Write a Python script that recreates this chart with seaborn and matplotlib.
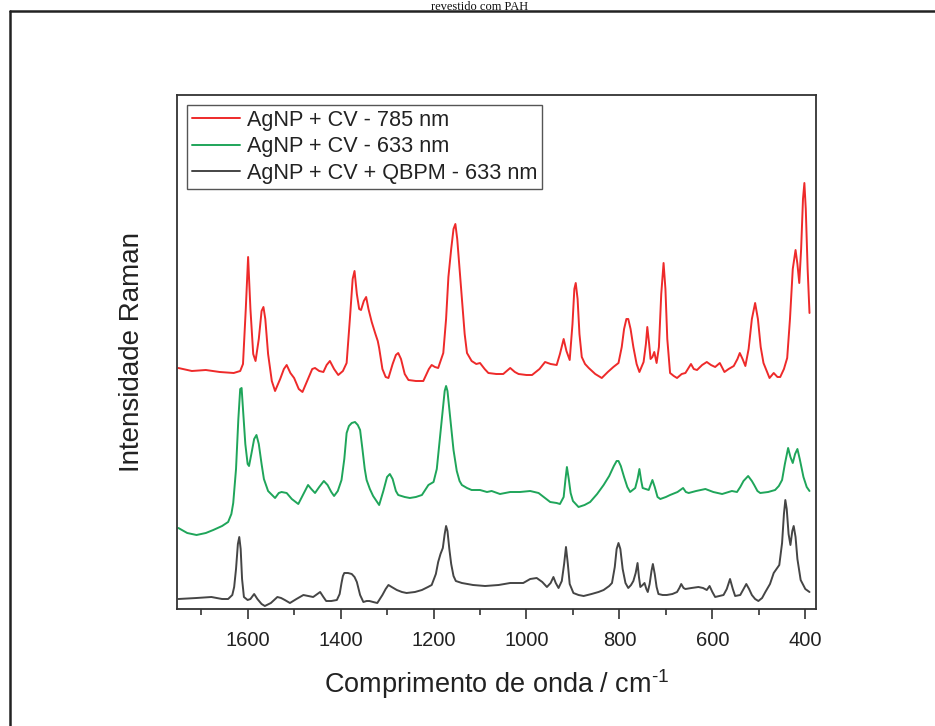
import numpy as np
import pandas as pd
import matplotlib
matplotlib.use("Agg")
import matplotlib.pyplot as plt
from matplotlib.lines import Line2D
from matplotlib.ticker import MultipleLocator
import seaborn as sns

# ---- data (wavenumber cm-1, Raman intensity, arbitrary units) ----
red_x = [1749, 1720, 1690, 1660, 1630, 1616, 1610, 1604, 1599, 1594, 1588, 1583, 1576, 1570, 1566,
         1562, 1556, 1548, 1541, 1530, 1522, 1516, 1508, 1500, 1490, 1482, 1470, 1461, 1455, 1446,
         1437, 1430, 1423, 1414, 1405, 1395, 1387, 1380, 1374, 1370, 1365, 1360, 1356, 1350, 1345,
         1340, 1333, 1325, 1320, 1317, 1310, 1303, 1297, 1288, 1281, 1276, 1270, 1262, 1254, 1238,
         1222, 1210, 1204, 1197, 1190, 1179, 1173, 1168, 1162, 1157, 1153, 1149, 1144, 1139, 1133,
         1128, 1118, 1108, 1100, 1090, 1082, 1065, 1050, 1035, 1025, 1017, 1000, 988, 972, 960,
         948, 935, 928, 920, 914, 907, 901, 897, 894, 890, 886, 881, 874, 866, 852,
         838, 825, 813, 802, 795, 790, 785, 781, 776, 770, 763, 757, 748, 743, 740,
         736, 733, 729, 725, 720, 715, 710, 705, 701, 697, 691, 683, 676, 666, 658,
         646, 640, 633, 622, 612, 603, 594, 584, 574, 565, 554, 546, 541, 535, 529,
         522, 515, 508, 502, 496, 490, 483, 477, 468, 460, 454, 446, 439, 433, 427,
         421, 417, 413, 409, 405, 402, 399, 395, 391]
red_y = [241, 238, 239, 237, 236, 238, 245, 300, 352, 300, 255, 248, 270, 298, 302,
         290, 255, 228, 218, 230, 240, 244, 236, 231, 220, 217, 230, 240, 241, 238,
         237, 244, 248, 240, 234, 238, 246, 290, 330, 338, 315, 300, 299, 308, 312,
         300, 287, 275, 268, 261, 240, 232, 231, 245, 254, 256, 250, 235, 229, 228,
         228, 240, 244, 242, 241, 256, 290, 332, 360, 380, 385, 370, 340, 309, 275,
         256, 248, 245, 246, 240, 236, 235, 235, 241, 237, 235, 234, 234, 240, 247,
         245, 244, 255, 270, 258, 249, 285, 320, 326, 310, 275, 252, 245, 241, 235,
         231, 237, 242, 246, 262, 280, 290, 290, 280, 262, 245, 237, 247, 265, 282,
         265, 250, 252, 257, 246, 262, 315, 346, 320, 270, 236, 233, 231, 235, 236,
         245, 240, 239, 244, 247, 244, 242, 246, 237, 240, 243, 250, 256, 250, 243,
         260, 290, 306, 290, 262, 246, 238, 231, 236, 232, 232, 240, 251, 290, 340,
         359, 345, 326, 360, 410, 426, 400, 340, 296]

green_x = [1749, 1730, 1710, 1690, 1674, 1655, 1642, 1635, 1631, 1625, 1620, 1616, 1613, 1610, 1605,
           1600, 1597, 1592, 1586, 1581, 1576, 1570, 1565, 1556, 1541, 1533, 1527, 1516, 1505, 1491,
           1480, 1470, 1463, 1455, 1446, 1436, 1428, 1420, 1414, 1406, 1398, 1392, 1387, 1382, 1376,
           1369, 1363, 1358, 1353, 1348, 1344, 1337, 1330, 1317, 1308, 1300, 1294, 1288, 1281, 1276,
           1262, 1251, 1238, 1225, 1211, 1200, 1193, 1186, 1180, 1176, 1173, 1170, 1165, 1160, 1157,
           1150, 1144, 1139, 1128, 1118, 1100, 1085, 1075, 1057, 1035, 1014, 992, 974, 960, 949,
           935, 928, 920, 916, 913, 909, 905, 900, 888, 875, 863, 848, 834, 822, 812,
           806, 802, 797, 790, 783, 777, 766, 761, 757, 753, 750, 737, 733, 729, 724,
           718, 712, 700, 691, 675, 663, 657, 651, 635, 615, 598, 579, 565, 558, 547,
           540, 533, 523, 515, 510, 503, 497, 480, 465, 457, 450, 444, 437, 432, 427,
           422, 417, 412, 404, 397, 391]
green_y = [81, 76, 74, 76, 79, 83, 87, 95, 106, 140, 190, 220, 221, 200, 165,
           145, 143, 155, 170, 174, 165, 145, 130, 118, 111, 116, 117, 116, 110, 105,
           115, 124, 120, 116, 122, 128, 124, 117, 113, 118, 129, 150, 176, 183, 186,
           187, 184, 179, 160, 140, 129, 120, 113, 104, 118, 132, 135, 130, 118, 114,
           112, 111, 112, 114, 124, 127, 140, 172, 200, 218, 223, 218, 195, 172, 159,
           138, 128, 124, 121, 119, 119, 117, 118, 115, 117, 117, 118, 116, 111, 107,
           106, 105, 112, 130, 142, 130, 116, 108, 102, 104, 107, 115, 124, 133, 143,
           148, 148, 143, 132, 122, 117, 121, 130, 140, 128, 121, 119, 124, 129, 122,
           112, 110, 112, 114, 117, 121, 117, 116, 118, 120, 117, 115, 117, 118, 117,
           122, 128, 133, 128, 124, 118, 116, 117, 119, 123, 129, 145, 161, 152, 146,
           155, 160, 150, 132, 122, 118]

black_x = [1749, 1710, 1678, 1655, 1642, 1633, 1629, 1625, 1621, 1618, 1615, 1612, 1608, 1600, 1594,
           1586, 1579, 1570, 1563, 1550, 1536, 1528, 1520, 1509, 1495, 1480, 1470, 1459, 1450, 1444,
           1437, 1431, 1420, 1408, 1402, 1398, 1395, 1392, 1384, 1376, 1370, 1365, 1358, 1351, 1344,
           1338, 1330, 1321, 1310, 1303, 1297, 1290, 1279, 1268, 1258, 1240, 1225, 1212, 1204, 1195,
           1190, 1185, 1180, 1176, 1173, 1170, 1166, 1162, 1157, 1152, 1139, 1115, 1089, 1060, 1035,
           1007, 992, 978, 966, 956, 948, 942, 937, 931, 924, 919, 915, 911, 907, 899,
           888, 877, 860, 845, 834, 822, 816, 810, 806, 802, 798, 793, 787, 781, 775,
           770, 765, 761, 758, 755, 750, 746, 742, 739, 735, 731, 728, 724, 720, 716,
           707, 698, 686, 676, 671, 667, 662, 658, 645, 630, 620, 612, 606, 600, 594,
           585, 576, 569, 562, 556, 551, 540, 533, 527, 521, 515, 508, 501, 493, 486,
           476, 468, 462, 456, 450, 446, 443, 440, 436, 432, 428, 425, 421, 417, 410,
           400, 391]
black_y = [10, 11, 12, 10, 10, 14, 22, 40, 65, 72, 60, 30, 12, 9, 10,
           15, 10, 5, 3, 6, 12, 11, 9, 6, 10, 14, 13, 12, 15, 17,
           12, 8, 8, 9, 15, 26, 33, 36, 36, 35, 32, 27, 14, 7, 8,
           8, 7, 6, 14, 20, 24, 22, 19, 17, 16, 17, 19, 22, 24, 35,
           47, 55, 61, 75, 83, 78, 60, 45, 33, 28, 26, 24, 23, 24, 26,
           26, 30, 31, 27, 22, 26, 32, 26, 21, 28, 45, 62, 45, 25, 16,
           14, 13, 15, 17, 19, 23, 26, 42, 60, 66, 60, 40, 26, 21, 24,
           28, 36, 46, 32, 22, 24, 26, 20, 17, 25, 38, 45, 35, 22, 15,
           14, 14, 15, 17, 21, 25, 21, 20, 21, 22, 21, 19, 23, 17, 12,
           13, 14, 20, 30, 20, 13, 14, 20, 25, 20, 14, 10, 8, 11, 17,
           25, 36, 40, 44, 66, 95, 109, 100, 75, 64, 78, 83, 72, 50, 29,
           20, 17]

labels = ["AgNP + CV - 785 nm", "AgNP + CV - 633 nm", "AgNP + CV + QBPM - 633 nm"]
colors = ["#ee2a2a", "#1fa55a", "#454545"]

# ---- style ----
sns.set_theme(style="white")
plt.rcParams["font.family"] = ["Liberation Sans", "DejaVu Sans"]
plt.rcParams["mathtext.fontset"] = "custom"
plt.rcParams["mathtext.rm"] = "Liberation Sans"
plt.rcParams["mathtext.it"] = "Liberation Sans"

fig = plt.figure(figsize=(9.35, 7.26), dpi=100)
ax = fig.add_axes([177 / 935, 1 - 609 / 726, (816 - 177) / 935, (609 - 95) / 726])

for xs, ys, lab, col in zip([red_x, green_x, black_x], [red_y, green_y, black_y], labels, colors):
    df = pd.DataFrame({"x": xs, "y": ys})
    sns.lineplot(data=df, x="x", y="y", color=col, label=lab, linewidth=1.4,
                 sort=False, estimator=None, ax=ax)

ax.set_xlim(1752, 377)
ax.set_ylim(0, 514)
ax.set_yticks([])
ax.xaxis.set_major_locator(MultipleLocator(200))
ax.xaxis.set_minor_locator(MultipleLocator(100))
ax.tick_params(axis="x", which="major", direction="out", length=7.5, width=1.2,
               color="#333333", labelsize=14.5, labelcolor="#222222", pad=8, bottom=True)
ax.tick_params(axis="x", which="minor", direction="out", length=4, width=1.2,
               color="#333333", bottom=True)
for s in ax.spines.values():
    s.set_visible(True)
    s.set_color("#333333")
    s.set_linewidth(1.3)

ax.set_xlabel(r"Comprimento de onda / cm$^{\text{-1}}$", fontsize=19.5, color="#222222", labelpad=13)
ax.set_ylabel("Intensidade Raman", fontsize=20, color="#222222", labelpad=23)

leg = ax.legend(loc="upper left", fontsize=15.6, frameon=True, fancybox=False,
                edgecolor="#555555", framealpha=1, handlelength=2.25, handletextpad=0.3,
                borderpad=0.22, labelspacing=0.26, borderaxespad=0.45)
leg.get_frame().set_linewidth(1.0)
for t in leg.get_texts():
    t.set_color("#222222")

# page frame and caption of the original document
fig.add_artist(Line2D([10 / 935, 1.0], [1 - 11 / 726, 1 - 11 / 726], color="#222222", linewidth=1.8))
fig.add_artist(Line2D([10 / 935, 10 / 935], [0, 1 - 11 / 726], color="#222222", linewidth=1.8))
fig.text(480 / 935, 1 - 1 / 726, "revestido com PAH", ha="center", va="top",
         fontsize=9, family=["Liberation Serif", "DejaVu Serif"], color="#111111")

fig.savefig("out.png", dpi=100)
